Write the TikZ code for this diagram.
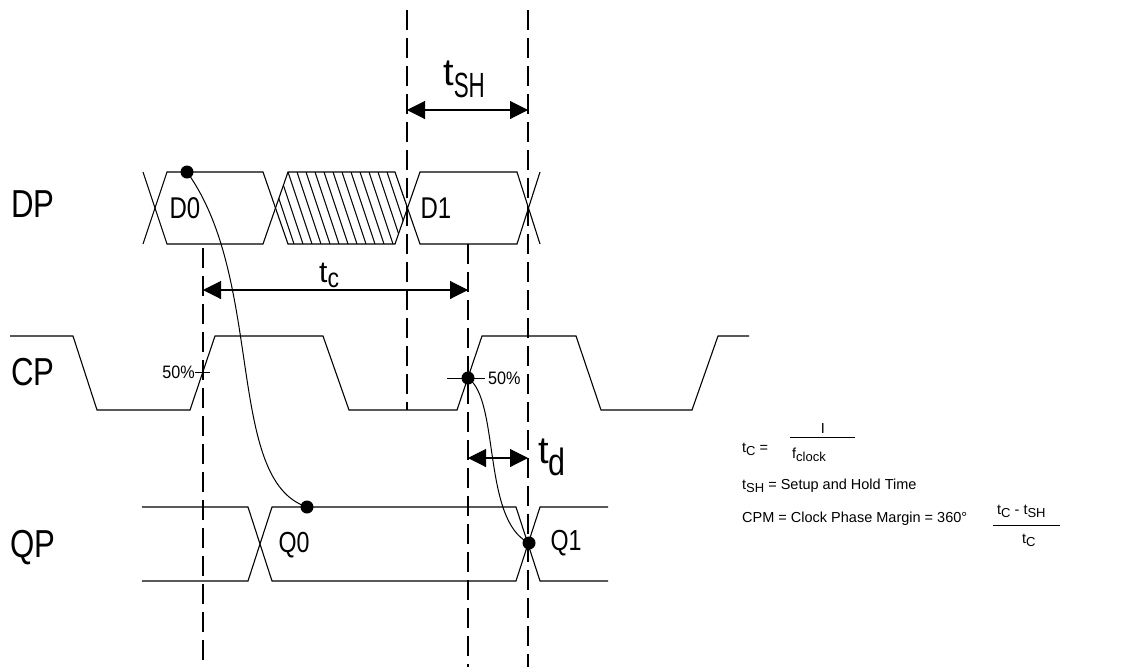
\documentclass[tikz,border=0pt]{standalone}
\usepackage{fontspec}
\setmainfont{Liberation Sans}
\usetikzlibrary{arrows.meta}
\newcommand{\cadtxt}[3]{{\fontsize{#1}{#1}\selectfont\scalebox{#2}[1]{#3}}}
\newcommand{\legsub}[1]{\raisebox{-3.5pt}{\fontsize{13}{13}\selectfont #1}}
\begin{document}
\begin{tikzpicture}[x=1pt,y=-1pt,
  wave/.style={line width=1.1pt, line join=miter},
  dashln/.style={line width=1.1pt, dash pattern=on 20pt off 8pt},
  dim/.style={line width=1.1pt, {Triangle[length=18pt,width=18pt]}-{Triangle[length=18pt,width=18pt]}},
  dot/.style={circle, fill=black, inner sep=0pt, minimum size=13pt},
  lab/.style={inner sep=0pt},
  leg/.style={inner sep=0pt, font=\fontsize{14.5}{14.5}\selectfont},
  thin/.style={line width=1pt}]
\useasboundingbox (0,0) rectangle (1125,667);

% dashed reference lines
\coordinate (a1) at (203,248); \coordinate (a2) at (203,667);
\coordinate (b1) at (407,10);  \coordinate (b2) at (407,410);
\coordinate (c1) at (468,244); \coordinate (c2) at (468,667);
\coordinate (e1) at (528,10);  \coordinate (e2) at (528,667);
\draw[dashln] (a1) -- (a2);
\draw[dashln] (b1) -- (b2);
\draw[dashln] (c1) -- (c2);
\draw[dashln] (e1) -- (e2);

% DP hatching
\begin{scope}
\clip (276,208) -- (288,172) -- (395,172) -- (408,208) -- (395,244) -- (288,244) -- cycle;
\foreach \x in {252,261,...,405} \draw[thin] (\x,172) -- ++(24,72);
\end{scope}

% DP waveform
\draw[wave] (143,172) -- (167,244) -- (263,244) -- (288,172) -- (395,172) -- (420,244) -- (517,244) -- (540,172);
\draw[wave] (143,244) -- (167,172) -- (263,172) -- (288,244) -- (395,244) -- (420,172) -- (517,172) -- (540,244);

% CP waveform
\draw[wave] (10,336) -- (73,336) -- (97,410) -- (190,410) -- (215,336) -- (323,336) -- (349,410) -- (457,410) -- (482,336) -- (576,336) -- (601,410) -- (692,410) -- (718,336) -- (749,336);

% QP waveform
\draw[wave] (142,507) -- (248,507) -- (272,581) -- (516,581) -- (540,507) -- (608,507);
\draw[wave] (142,581) -- (248,581) -- (272,507) -- (516,507) -- (540,581) -- (608,581);

% row labels
\node[lab] (dp) at (33,204) {\cadtxt{39}{0.8}{DP}};
\node[lab] (cp) at (33,372) {\cadtxt{39}{0.8}{CP}};
\node[lab] (qp) at (33,548) {\cadtxt{39}{0.8}{QP}};

% data labels
\node[lab] (d0) at (185,208) {\cadtxt{30}{0.8}{D0}};
\node[lab] (d1) at (436,208) {\cadtxt{30}{0.8}{D1}};
\node[lab] (q0) at (294,545) {\cadtxt{29}{0.8}{Q0}};
\node[lab] (q1) at (566,543) {\cadtxt{29}{0.8}{Q1}};

% 50% marks
\coordinate (m1a) at (195,372); \coordinate (m1b) at (210,372);
\draw[thin] (m1a) -- (m1b);
\node[lab, anchor=east] (p1) at (m1a) {\cadtxt{18}{0.9}{50\%}};
\coordinate (m2a) at (447,378); \coordinate (m2b) at (485,378);
\draw[thin] (m2a) -- (m2b);
\node[lab, anchor=west] (p2) at (488,378) {\cadtxt{18}{0.9}{50\%}};

% dots
\node[dot] (d0dot) at (187,172) {};
\node[dot] (q0dot) at (307,507) {};
\node[dot] (cpdot) at (468,378) {};
\node[dot] (q1dot) at (529,543) {};

% causality curves
\draw[thin] (d0dot.center) .. controls (265,280) and (225,480) .. (q0dot.center);
\draw[thin] (cpdot.center) .. controls (500,400) and (482,520) .. (q1dot.center);

% dimension arrows
\coordinate (sh1) at (407,110); \coordinate (sh2) at (528,110);
\draw[dim] (sh1) -- (sh2);
\coordinate (tc1) at (203,290); \coordinate (tc2) at (468,290);
\draw[dim] (tc1) -- (tc2);
\coordinate (td1) at (468,458); \coordinate (td2) at (528,458);
\draw[dim] (td1) -- (td2);

\node[lab, anchor=base west] (tsh) at (443,85) {{\fontsize{38}{38}\selectfont t}\raisebox{-12pt}{\cadtxt{35}{0.64}{SH}}};
\node[lab, anchor=base west] (tc) at (319,282) {{\fontsize{30}{30}\selectfont t}\raisebox{-5pt}{\cadtxt{27}{0.85}{c}}};
\node[lab, anchor=base west] (td) at (538,463) {{\fontsize{38}{38}\selectfont t}\raisebox{-12pt}{\cadtxt{38}{0.8}{d}}};

% legend
\node[leg, anchor=base west] (l1) at (742,452) {t\legsub{C} =};
\node[leg, anchor=base] (l1n) at (823,433) {I};
\coordinate (f1a) at (790,437); \coordinate (f1b) at (855,437);
\draw[thin] (f1a) -- (f1b);
\node[leg, anchor=base west] (l1d) at (792,458) {f\legsub{clock}};
\node[leg, anchor=base west] (l2) at (742,489) {t\legsub{SH} = Setup and Hold Time};
\node[leg, anchor=base west] (l3) at (742,522) {CPM = Clock Phase Margin = 360°};
\node[leg, anchor=base west] (l3n) at (997,514) {t\legsub{C} - t\legsub{SH}};
\coordinate (f2a) at (993,525); \coordinate (f2b) at (1060,525);
\draw[thin] (f2a) -- (f2b);
\node[leg, anchor=base west] (l3d) at (1022,543) {t\legsub{C}};
\end{tikzpicture}
\end{document}
